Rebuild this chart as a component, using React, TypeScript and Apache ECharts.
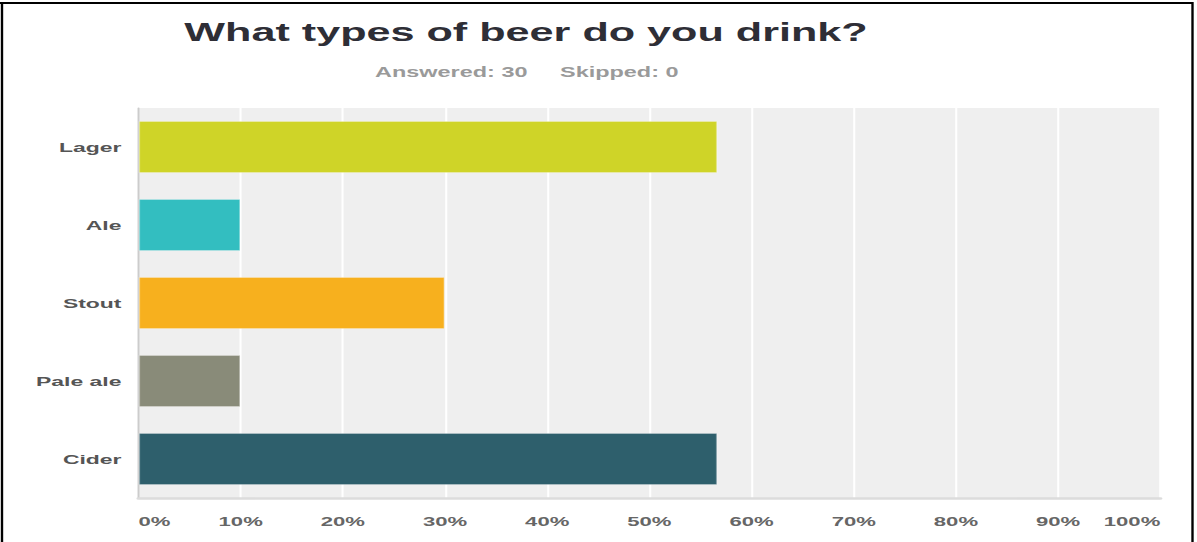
import React, { useEffect, useRef } from "react";
import * as echarts from "echarts";

// ---- data ----
const titleText = "What types of beer do you drink?";
const answeredText = "Answered: 30";
const skippedText = "Skipped: 0";
const categories = ["Lager", "Ale", "Stout", "Pale ale", "Cider"];
const percentages = [56.67, 10, 30, 10, 56.67];
const barColors = ["#cfd428", "#33bec0", "#f7b01e", "#898b79", "#2e5f6c"];
const axisMin = 0;
const axisMax = 100;
const axisStep = 10;

// The reference is a horizontally stretched screenshot
const STRETCH = 1.7;
const FULL_W = 1197;
const FULL_H = 542;
const W = FULL_W / STRETCH;

export default function App() {
  const ref = useRef<HTMLDivElement>(null);

  useEffect(() => {
    if (!ref.current) return;
    const chart = echarts.init(ref.current, undefined, { renderer: "svg" });
    const font = "'Liberation Sans', Arial, Helvetica, sans-serif";
    chart.setOption({
      animation: false,
      backgroundColor: "#ffffff",
      textStyle: { fontFamily: font },
      grid: {
        left: 138.5 / STRETCH,
        right: W - 1160.5 / STRETCH,
        top: 108,
        bottom: FULL_H - 498,
        show: true,
        backgroundColor: "#efefef",
        borderWidth: 0,
        containLabel: false,
      },
      xAxis: {
        type: "value",
        min: axisMin,
        max: axisMax,
        interval: axisStep,
        axisLine: { show: true, lineStyle: { color: "#dcdcdc", width: 2.5 } },
        axisTick: { show: false },
        splitLine: { show: true, lineStyle: { color: "#ffffff", width: 1.2 } },
        axisLabel: {
          formatter: "{value}%",
          color: "#666666",
          fontSize: 13,
          fontWeight: "bold",
          fontFamily: font,
          margin: 17,
          alignMinLabel: "left",
          alignMaxLabel: "right",
        },
      },
      yAxis: {
        type: "category",
        data: categories,
        inverse: true,
        axisLine: { show: true, lineStyle: { color: "#cccccc", width: 1.2 } },
        axisTick: { show: false },
        splitLine: { show: false },
        axisLabel: {
          color: "#555555",
          fontSize: 13.5,
          fontWeight: "bold",
          fontFamily: font,
          margin: 10,
        },
      },
      series: [
        {
          type: "bar",
          data: percentages.map((v, i) => ({
            value: v,
            itemStyle: { color: barColors[i] },
          })),
          barWidth: "66.7%",
          itemStyle: {
            borderColor: "rgba(255,255,255,0.25)",
            borderWidth: 1,
          },
        },
      ],
      graphic: [
        {
          type: "text",
          x: 526 / STRETCH,
          y: 32,
          style: {
            text: titleText,
            fontSize: 25.4,
            fontWeight: "bold",
            fontFamily: font,
            fill: "#2e2e36",
            align: "center",
            textAlign: "center",
            verticalAlign: "middle",
            textVerticalAlign: "middle",
          },
        },
        {
          type: "text",
          x: 375 / STRETCH,
          y: 72,
          style: {
            text: answeredText,
            fontSize: 13.8,
            fontWeight: "bold",
            fontFamily: font,
            fill: "#9a9a9a",
            align: "left",
            textAlign: "left",
            verticalAlign: "middle",
            textVerticalAlign: "middle",
          },
        },
        {
          type: "text",
          x: 560 / STRETCH,
          y: 72,
          style: {
            text: skippedText,
            fontSize: 13.8,
            fontWeight: "bold",
            fontFamily: font,
            fill: "#9a9a9a",
            align: "left",
            textAlign: "left",
            verticalAlign: "middle",
            textVerticalAlign: "middle",
          },
        },
        // frame
        {
          type: "line",
          shape: { x1: 0, y1: 3, x2: 1193 / STRETCH, y2: 3 },
          style: { stroke: "#000", lineWidth: 2.2 },
        },
        {
          type: "line",
          shape: { x1: 2 / STRETCH, y1: 2, x2: 2 / STRETCH, y2: FULL_H },
          style: { stroke: "#000", lineWidth: 1.4 },
        },
        {
          type: "line",
          shape: { x1: 1192.5 / STRETCH, y1: 2, x2: 1192.5 / STRETCH, y2: FULL_H },
          style: { stroke: "#000", lineWidth: 1.4 },
        },
      ],
    });
    return () => chart.dispose();
  }, []);

  return (
    <div
      style={{
        position: "absolute",
        left: 0,
        top: 0,
        width: FULL_W,
        height: FULL_H,
        overflow: "hidden",
        background: "#fff",
      }}
    >
      <div
        ref={ref}
        style={{
          width: W,
          height: FULL_H,
          transform: `scaleX(${STRETCH})`,
          transformOrigin: "0 0",
        }}
      />
    </div>
  );
}
